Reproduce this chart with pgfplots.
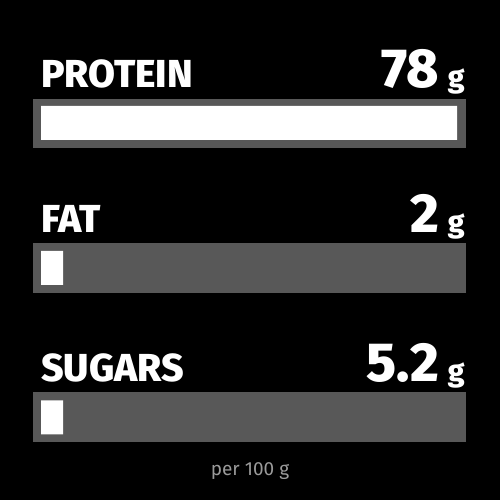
\documentclass[border=0pt]{standalone}
\usepackage{pgfplots}
\pgfplotsset{compat=1.18}
\usepackage{fontspec}
\setmainfont{Fira Sans}[BoldFont={Fira Sans ExtraBold}]
\definecolor{track}{HTML}{585858}
\definecolor{note}{HTML}{9A9A9A}
% x in grams (0..78 fills the inner bar), y in pixels from the top
\newcommand{\lab}{\fontsize{39bp}{39bp}\selectfont\bfseries}
\newcommand{\val}{\fontsize{55bp}{55bp}\selectfont\bfseries}
\newcommand{\unit}{\fontsize{30bp}{30bp}\selectfont\bfseries}
\begin{document}
\begin{tikzpicture}
\begin{axis}[
    scale only axis,
    width=500bp, height=500bp,
    xmin=-7.6875, xmax=86.0625,
    ymin=0, ymax=500, y dir=reverse,
    hide axis,
    axis background/.style={fill=black},
    clip=false,
]
% grey tracks
\addplot[fill=track, draw=none] coordinates {(-1.5,99) (79.69,99) (79.69,148) (-1.5,148)} -- cycle;
\addplot[fill=track, draw=none] coordinates {(-1.5,243) (79.69,243) (79.69,293) (-1.5,293)} -- cycle;
\addplot[fill=track, draw=none] coordinates {(-1.5,392) (79.69,392) (79.69,442) (-1.5,442)} -- cycle;
% white bars (small values are drawn with a minimum length)
\addplot[xbar, bar width=34, fill=white, draw=none]
    coordinates {(78,123) (4.125,268) (4.125,417.5)};
% labels
\node[anchor=base west, white, inner sep=0] at (axis cs:0,88) {\lab PROTEIN};
\node[anchor=base west, white, inner sep=0] at (axis cs:0,232.5) {\lab FAT};
\node[anchor=base west, white, inner sep=0] at (axis cs:0,382) {\lab SUGARS};
\node[anchor=base east, white, inner sep=0] at (axis cs:79.5,88) {\val 78\,\unit g};
\node[anchor=base east, white, inner sep=0] at (axis cs:79.5,232.5) {\val 2\,\unit g};
\node[anchor=base east, white, inner sep=0] at (axis cs:79.5,382) {\val 5.2\,\unit g};
\node[anchor=base, note, inner sep=0] at (axis cs:39.19,476) {\fontsize{19bp}{19bp}\selectfont per 100 g};
\end{axis}
\end{tikzpicture}
\end{document}
